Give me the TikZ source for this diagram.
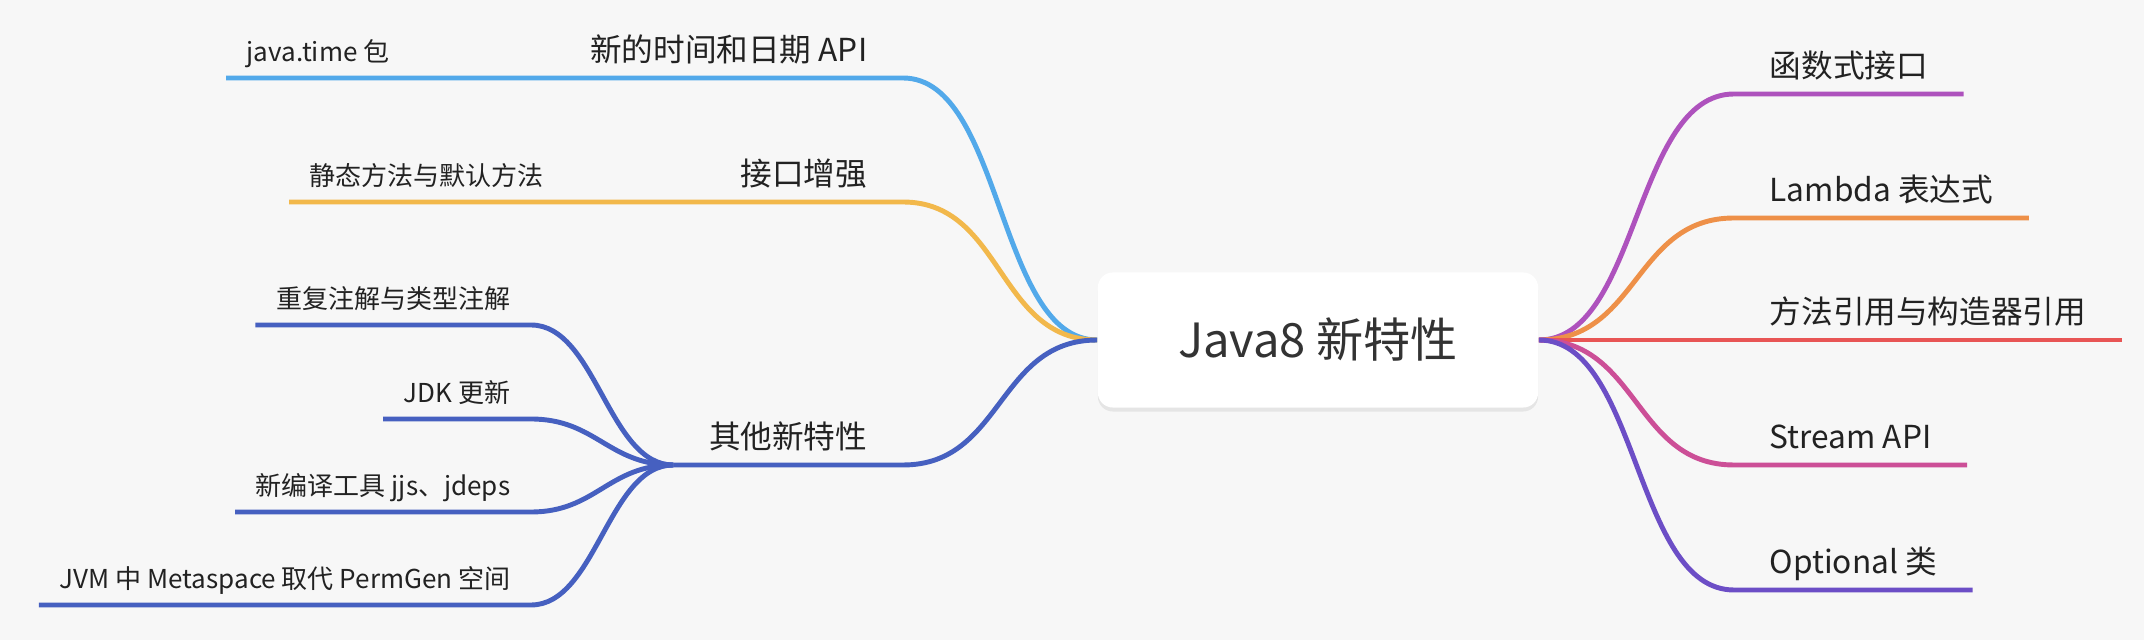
\documentclass[tikz,border=0pt]{standalone}
\usepackage{fontspec}
\setmainfont{Noto Sans CJK SC}
\usepackage{tikz}
\usetikzlibrary{shadows}
\definecolor{bgcol}{HTML}{F7F7F7}
\definecolor{txtcol}{HTML}{222222}
\definecolor{timecol}{HTML}{52A9EA}
\definecolor{ifacecol}{HTML}{F2B84B}
\definecolor{othercol}{HTML}{4660C0}
\definecolor{funccol}{HTML}{AE52BD}
\definecolor{lambdacol}{HTML}{EE9048}
\definecolor{refcol}{HTML}{E85555}
\definecolor{streamcol}{HTML}{CC4F97}
\definecolor{optcol}{HTML}{6C4EC6}
\tikzstyle{root}=[fill=white, rounded corners=0.15cm, minimum width=4.4cm, minimum height=1.35cm, text=black!80, font=\fontsize{13.4}{16}\selectfont, drop shadow={shadow xshift=0cm, shadow yshift=-0.04cm, opacity=0.07, fill=black}]
\tikzstyle{topic}=[text=txtcol, inner xsep=0.35cm, inner ysep=0.16cm, text depth=0pt, font=\fontsize{9}{11}\selectfont]
\tikzstyle{sub}=[text=txtcol, inner xsep=0.2cm, inner ysep=0.16cm, text depth=0pt, font=\fontsize{7.4}{9}\selectfont]
\tikzstyle{branch}=[line width=1.4pt]

\begin{document}
\begin{tikzpicture}[x=0.01cm, y=-0.01cm]
            \fill[bgcol] (0,0) rectangle (2144,640);
            \useasboundingbox (0,0) rectangle (2144,640);

            %%%%% Root
            \node[root] (root) at (1318,340) {Java8 新特性};

            %%%%% Right side
            \node[topic, anchor=south west] (func) at (1734,94) {函数式接口};
            \node[topic, anchor=south west] (lambda) at (1734,218) {Lambda 表达式};
            \node[topic, anchor=south west] (mref) at (1734,340) {方法引用与构造器引用};
            \node[topic, anchor=south west] (stream) at (1734,465) {Stream API};
            \node[topic, anchor=south west] (opt) at (1734,590) {Optional 类};

            \draw[branch, funccol] (root.east) .. controls +(100,0) and +(-100,0) .. (func.south west) -- (func.south east);
            \draw[branch, lambdacol] (root.east) .. controls +(100,0) and +(-100,0) .. (lambda.south west) -- (lambda.south east);
            \draw[branch, refcol] (root.east) -- (mref.south west) -- (mref.south east);
            \draw[branch, streamcol] (root.east) .. controls +(100,0) and +(-100,0) .. (stream.south west) -- (stream.south east);
            \draw[branch, optcol] (root.east) .. controls +(100,0) and +(-100,0) .. (opt.south west) -- (opt.south east);

            %%%%% Left side
            \node[topic, anchor=south east] (time) at (903,78) {新的时间和日期 API};
            \node[sub, anchor=south west] (jtime) at (226,78) {java.time 包};
            \draw[branch, timecol] (root.west) .. controls +(-100,0) and +(100,0) .. (time.south east) -- (time.south west) -- (jtime.south east) -- (jtime.south west);

            \node[topic, anchor=south east] (iface) at (903,202) {接口增强};
            \node[sub, anchor=south west] (static) at (289,202) {静态方法与默认方法};
            \draw[branch, ifacecol] (root.west) .. controls +(-100,0) and +(100,0) .. (iface.south east) -- (iface.south west) -- (static.south east) -- (static.south west);

            % other features
            \node[topic, anchor=south east] (other) at (903,465) {其他新特性};
            \node[sub, anchor=south east] (anno) at (531,325) {重复注解与类型注解};
            \node[sub, anchor=south east] (jdk) at (531,419) {JDK 更新};
            \node[sub, anchor=south east] (tools) at (531,512) {新编译工具 jjs、jdeps};
            \node[sub, anchor=south east] (jvm) at (531,605) {JVM 中 Metaspace 取代 PermGen 空间};
            \draw[branch, othercol] (root.west) .. controls +(-100,0) and +(100,0) .. (other.south east) -- (other.south west);
            \foreach \n in {anno, jdk, tools, jvm}
                \draw[branch, othercol] (other.south west) .. controls +(-65,0) and +(65,0) .. (\n.south east) -- (\n.south west);
\end{tikzpicture}
\end{document}
